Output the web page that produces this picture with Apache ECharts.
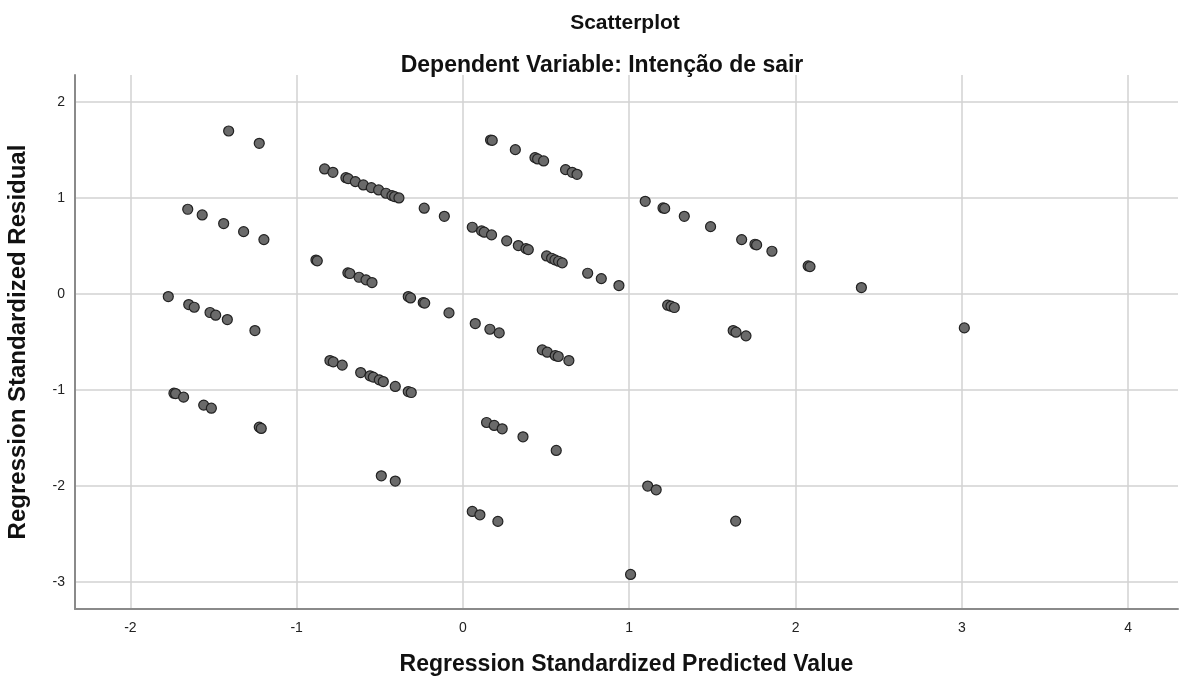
<!DOCTYPE html>
<html>
<head>
<meta charset="utf-8">
<script src="https://cdn.jsdelivr.net/npm/echarts@6/dist/echarts.min.js"></script>
<style>
  html, body { margin: 0; padding: 0; background: #fff; }
  #chart { width: 1179px; height: 682px; }
</style>
</head>
<body>
<div id="chart"></div>
<script>
// Standardized predicted values (x) and standardized residuals (y)
const predicted = [
  -1.409, -1.225, -1.655, -1.568, -1.439, -1.319, -1.197, -0.832, -0.782, -0.704,
  -0.690, -0.647, -0.599, -0.551, -0.507, -0.463, -0.427, -0.411, -0.385, -0.233,
  -0.112, 0.056, -0.884, -0.876, 0.166, 0.176, 0.315, 0.433, 0.449, 0.485,
  0.617, 0.657, 0.686, 1.096, 1.203, 1.213, 1.331, 1.489, 1.676, 1.756,
  1.766, 1.858, 0.112, 0.128, 0.172, 0.263, 0.333, 0.379, 0.393, 0.503,
  0.533, 0.553, 0.575, 0.597, 0.750, 0.832, 0.938, 2.076, 2.087, 2.396,
  3.015, -0.084, 0.074, 0.162, 0.218, 0.477, 0.507, 0.555, 0.573, 0.637,
  1.231, 1.251, 1.271, 1.625, 1.642, 1.702, 0.142, 0.188, 0.236, 0.361,
  0.561, 1.111, 1.162, 0.056, 0.102, 0.210, 1.640, 1.008, -0.692, -0.680,
  -0.625, -0.583, -0.547, -1.772, -1.649, -1.616, -1.521, -1.487, -1.417, -1.251,
  -0.329, -0.315, -0.239, -0.230, -0.800, -0.780, -0.726, -0.615, -0.559, -0.539,
  -0.503, -0.479, -0.407, -0.329, -0.311, -1.738, -1.728, -1.680, -1.559, -1.513,
  -1.225, -1.213, -0.491, -0.407
];
const residual = [
  1.696, 1.568, 0.881, 0.822, 0.732, 0.648, 0.565, 1.301, 1.266, 1.210,
  1.200, 1.169, 1.134, 1.106, 1.082, 1.048, 1.023, 1.013, 0.999, 0.892,
  0.808, 0.694, 0.352, 0.344, 1.602, 1.598, 1.502, 1.419, 1.405, 1.384,
  1.294, 1.266, 1.245, 0.964, 0.895, 0.890, 0.808, 0.700, 0.565, 0.517,
  0.510, 0.444, 0.656, 0.642, 0.614, 0.552, 0.503, 0.471, 0.461, 0.395,
  0.371, 0.354, 0.340, 0.323, 0.215, 0.159, 0.087, 0.291, 0.284, 0.066,
  -0.354, -0.198, -0.309, -0.368, -0.406, -0.583, -0.607, -0.642, -0.652, -0.694,
  -0.118, -0.128, -0.142, -0.382, -0.399, -0.437, -1.339, -1.370, -1.405, -1.488,
  -1.630, -2.001, -2.040, -2.265, -2.300, -2.369, -2.366, -2.921, 0.219, 0.212,
  0.173, 0.146, 0.118, -0.028, -0.111, -0.139, -0.194, -0.222, -0.267, -0.382,
  -0.028, -0.042, -0.090, -0.096, -0.694, -0.708, -0.742, -0.819, -0.853, -0.867,
  -0.895, -0.913, -0.964, -1.017, -1.027, -1.034, -1.038, -1.075, -1.158, -1.190,
  -1.387, -1.401, -1.894, -1.949
];

const xTicks = [-2, -1, 0, 1, 2, 3, 4];
const yTicks = [-3, -2, -1, 0, 1, 2];

const points = predicted.map((x, i) => [x, residual[i]]);

const chart = echarts.init(document.getElementById('chart'), null, { renderer: 'canvas' });
const font = '"Liberation Sans", Arial, sans-serif';
const gridColor = '#d2d2d2';
const axisColor = '#8a8a8a';

chart.setOption({
  animation: false,
  backgroundColor: '#ffffff',
  title: [
    {
      text: 'Scatterplot',
      left: 620, top: 8, textAlign: 'center',
      textStyle: { fontFamily: font, fontSize: 21, fontWeight: 'bold', color: '#111' }
    },
    {
      text: 'Dependent Variable: Intenção de sair',
      left: 597, top: 49, textAlign: 'center',
      textStyle: { fontFamily: font, fontSize: 23, fontWeight: 'bold', color: '#111' }
    }
  ],
  grid: {
    left: 75, top: 75, width: 1103, height: 534,
    containLabel: false, outerBoundsMode: 'none'
  },
  xAxis: {
    type: 'value',
    min: -2.333, max: 4.30,
    name: 'Regression Standardized Predicted Value',
    nameLocation: 'middle', nameGap: 44,
    nameTextStyle: { fontFamily: font, fontSize: 23, fontWeight: 'bold', color: '#111' },
    axisLine: { show: true, onZero: false, lineStyle: { color: axisColor, width: 2 } },
    axisTick: { show: false, customValues: xTicks },
    axisLabel: { customValues: xTicks, margin: 12, fontFamily: font, fontSize: 14, color: '#222' },
    splitLine: { show: true, lineStyle: { color: gridColor, width: 1.5 } }
  },
  yAxis: {
    type: 'value',
    min: -3.281, max: 2.279,
    name: 'Regression Standardized Residual',
    nameLocation: 'middle', nameGap: 45,
    nameTextStyle: { fontFamily: font, fontSize: 24, fontWeight: 'bold', color: '#111' },
    axisLine: { show: true, onZero: false, lineStyle: { color: axisColor, width: 2 } },
    axisTick: { show: false, customValues: yTicks },
    axisLabel: { customValues: yTicks, margin: 10, fontFamily: font, fontSize: 14, color: '#222' },
    splitLine: { show: true, lineStyle: { color: gridColor, width: 1.5 } }
  },
  series: [{
    type: 'scatter',
    data: points,
    symbol: 'circle',
    symbolSize: 10,
    itemStyle: { color: '#6a6a6a', borderColor: '#222', borderWidth: 1.2, opacity: 1 }
  }]
});
</script>
</body>
</html>
